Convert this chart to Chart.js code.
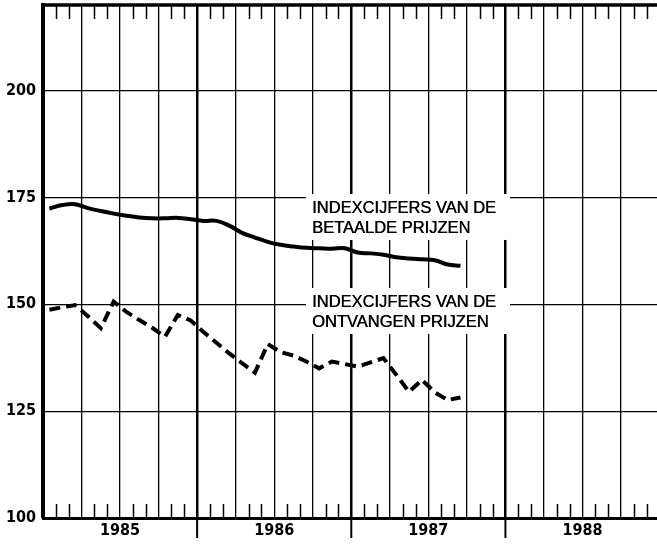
<!DOCTYPE html>
<html>
<head>
<meta charset="utf-8">
<script src="https://cdn.jsdelivr.net/npm/chart.js@4/dist/chart.umd.min.js"></script>
<style>
html,body{margin:0;padding:0;background:#fff;}
#wrap{width:657px;height:545px;position:relative;}
</style>
</head>
<body>
<div id="wrap"><canvas id="c"></canvas></div>
<script>
// months since Jan 1985 (plotted at mid-month)
const months = [0.5,1.5,2.5,3.5,4.5,5.5,6.5,7.5,8.5,9.5,10.5,11.5,
                12.5,13.5,14.5,15.5,16.5,17.5,18.5,19.5,20.5,21.5,22.5,23.5,
                24.5,25.5,26.5,27.5,28.5,29.5,30.5,31.5,32.5];
// Indexcijfers van de betaalde prijzen
const betaald = [172.4,173.2,173.4,172.5,171.8,171.2,170.7,170.3,170.1,170.1,170.2,169.9,
                 169.5,169.5,168.4,166.7,165.6,164.6,163.9,163.5,163.2,163.1,163.0,163.1,
                 162.1,161.9,161.6,161.0,160.7,160.5,160.3,159.3,159.0];
// Indexcijfers van de ontvangen prijzen
const ontvangen = [148.7,149.3,149.8,147.2,144.4,150.6,148.2,146.3,144.5,142.4,147.5,146.2,
                   143.5,141.0,138.5,136.2,134.0,140.7,138.8,138.0,136.6,135.0,136.6,136.0,
                   135.4,136.4,137.4,133.5,129.5,132.3,129.4,127.6,128.2];
const yearLabels = ['1985','1986','1987','1988'];
const yTicks = [100,125,150,175,200];
const noteLines = [['INDEXCIJFERS VAN DE','BETAALDE PRIJZEN'],['INDEXCIJFERS VAN DE','ONTVANGEN PRIJZEN']];
const noteAnchors = [{month:20.94, value:171.35},{month:20.94, value:149.36}];

const tickFont = '"DejaVu Sans Condensed", "Liberation Sans", Arial, sans-serif';

const frame = {
  id:'frame',
  beforeDatasetsDraw(chart){
    const {ctx, chartArea:a, scales:{x,y}} = chart;
    ctx.save();
    ctx.strokeStyle='#000';
    ctx.lineCap='butt';
    // top border
    ctx.lineWidth=3.5;
    ctx.beginPath(); ctx.moveTo(a.left-2,a.top); ctx.lineTo(a.right,a.top); ctx.stroke();
    // monthly minor ticks, top and bottom
    ctx.lineWidth=1.5;
    for(let m=1;m<48;m++){
      if(m%3===0) continue;
      const px=Math.round(x.getPixelForValue(m))+0.5;
      if(px>a.right) break;
      ctx.beginPath(); ctx.moveTo(px,a.top); ctx.lineTo(px,a.top+14); ctx.stroke();
      ctx.beginPath(); ctx.moveTo(px,a.bottom-14); ctx.lineTo(px,a.bottom); ctx.stroke();
    }
    // year boundary marks below the axis
    ctx.lineWidth=2;
    for(let m=12;m<48;m+=12){
      const px=x.getPixelForValue(m);
      ctx.beginPath(); ctx.moveTo(px,a.bottom); ctx.lineTo(px,a.bottom+20); ctx.stroke();
    }
    // labels with white background
    ctx.font='16.5px "Liberation Sans", Arial, sans-serif';
    ctx.textBaseline='alphabetic';
    ctx.textAlign='left';
    noteAnchors.forEach((n,i)=>{
      const px=x.getPixelForValue(n.month), py=y.getPixelForValue(n.value);
      ctx.fillStyle='#fff';
      ctx.fillRect(px-6, py-19, 204, 46);
      ctx.fillStyle='#000';
      noteLines[i].forEach((t,j)=>{ ctx.fillText(t, px, py+j*20.5); ctx.fillText(t, px+0.4, py+j*20.5); });
    });
    ctx.restore();
  }
};

new Chart(document.getElementById('c'), {
  type:'line',
  data:{
    datasets:[
      {label:'betaald', data:months.map((m,i)=>({x:m,y:betaald[i]})),
       borderColor:'#000', borderWidth:4, tension:0.4, pointRadius:0, fill:false},
      {label:'ontvangen', data:months.map((m,i)=>({x:m,y:ontvangen[i]})),
       borderColor:'#000', borderWidth:4, borderDash:[11,6], tension:0, pointRadius:0, fill:false}
    ]
  },
  options:{
    responsive:true, maintainAspectRatio:false, animation:false,
    layout:{padding:{top:5,right:0,left:0,bottom:0}},
    plugins:{legend:{display:false}, tooltip:{enabled:false}},
    scales:{
      x:{type:'linear', min:0, max:47.8,
         afterFit(s){s.height=27; s.paddingLeft=0; s.paddingRight=0;},
         afterBuildTicks(s){ s.ticks = s.ticks.filter(t=>Math.abs(t.value%3)<1e-6); },
         ticks:{stepSize:3, includeBounds:false, autoSkip:false, maxRotation:0, padding:3,
                color:'#000', font:{family:tickFont, size:16, weight:'bold'},
                callback(v){ return (v%12===6) ? yearLabels[(v-6)/12] : ''; }},
         grid:{drawTicks:false, color:'#000',
               lineWidth(c){ const v=c.tick?c.tick.value:0; if(v===0) return 0; return v%12===0?2.5:1.3; }},
         border:{display:true, color:'#000', width:3}
      },
      y:{min:100, max:220,
         afterFit(s){s.width=43; s.paddingTop=0; s.paddingBottom=0;},
         afterBuildTicks(s){ s.ticks = yTicks.map(v=>({value:v})); },
         ticks:{stepSize:25, includeBounds:false, padding:7, color:'#000',
                font:{family:tickFont, size:16, weight:'bold'}},
         grid:{drawTicks:false, color:'#000', lineWidth(c){ return c.tick && c.tick.value===100?0:1.2; }},
         border:{display:true, color:'#000', width:4}
      }
    }
  },
  plugins:[frame]
});
</script>
</body>
</html>
